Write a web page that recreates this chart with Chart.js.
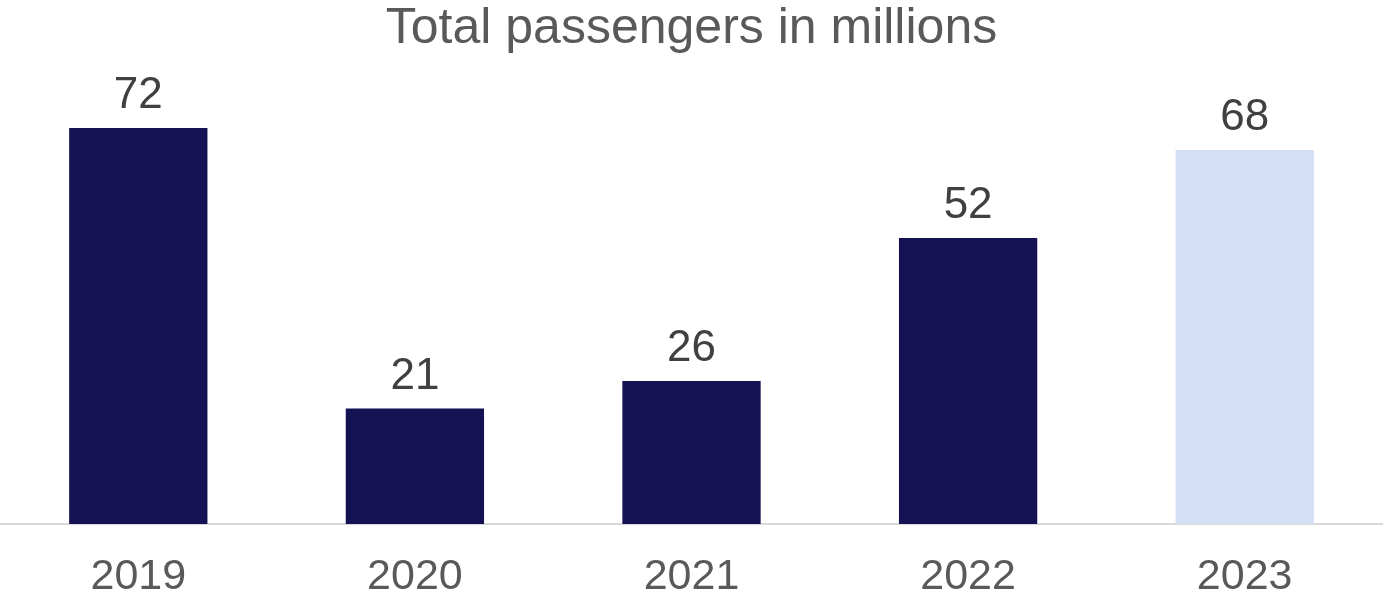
<!DOCTYPE html>
<html>
<head>
<meta charset="utf-8">
<script src="https://cdn.jsdelivr.net/npm/chart.js@4.4.1/dist/chart.umd.min.js"></script>
<style>
  html, body { margin: 0; padding: 0; background: #fff; }
  #wrap { width: 1383px; height: 598px; }
</style>
</head>
<body>
<div id="wrap"><canvas id="chart"></canvas></div>
<script>
// data
const years = ['2019', '2020', '2021', '2022', '2023'];
const passengers = [72, 21, 26, 52, 68];
const barColors = ['#141252', '#141252', '#141252', '#141252', '#D4DEF5'];

// value labels above each bar
const valueLabels = {
  id: 'valueLabels',
  afterDatasetsDraw(chart) {
    const ctx = chart.ctx;
    const meta = chart.getDatasetMeta(0);
    ctx.save();
    ctx.font = '44px "Liberation Sans", Arial, sans-serif';
    ctx.fillStyle = '#404040';
    ctx.textAlign = 'center';
    ctx.textBaseline = 'alphabetic';
    meta.data.forEach((bar, i) => {
      ctx.fillText(String(passengers[i]), bar.x, bar.y - 20);
    });
    ctx.restore();
  }
};

new Chart(document.getElementById('chart'), {
  type: 'bar',
  data: {
    labels: years,
    datasets: [{
      data: passengers,
      backgroundColor: barColors,
      barPercentage: 1,
      categoryPercentage: 0.5
    }]
  },
  options: {
    responsive: true,
    maintainAspectRatio: false,
    animation: false,
    layout: { padding: 0 },
    plugins: {
      legend: { display: false },
      tooltip: { enabled: false },
      title: {
        display: true,
        text: 'Total passengers in millions',
        color: '#595959',
        font: { family: '"Liberation Sans", Arial, sans-serif', size: 50, weight: 'normal', lineHeight: 1 },
        padding: { top: 4, bottom: 30 }
      }
    },
    scales: {
      x: {
        grid: { display: false, drawTicks: false },
        border: { display: true, color: '#D9D9D9', width: 2 },
        ticks: {
          color: '#595959',
          padding: 32,
          font: { family: '"Liberation Sans", Arial, sans-serif', size: 43, lineHeight: 1 }
        },
        afterFit(scale) { scale.height = 74; }
      },
      y: {
        display: false,
        min: 0,
        max: 80
      }
    }
  },
  plugins: [valueLabels]
});
</script>
</body>
</html>
